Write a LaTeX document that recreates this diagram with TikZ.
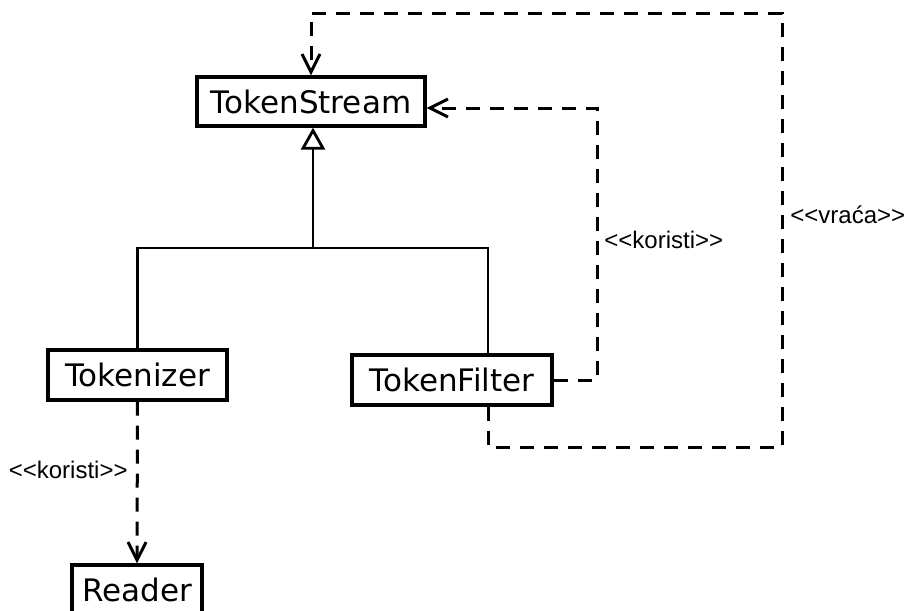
\documentclass[tikz,border=0pt]{standalone}
\usepackage{fontspec}
\setmainfont{DejaVu Sans}
\newfontfamily\labelfont{Liberation Sans}
\usetikzlibrary{arrows.meta}

\begin{document}
\begin{tikzpicture}[x=0.5pt,y=-0.5pt,
    klasa/.style={draw,line width=1.6pt,inner sep=0pt,font=\fontsize{15.5}{18}\selectfont},
    dep/.style={line width=1.5pt,dash pattern=on 7pt off 5pt,-{Straight Barb[length=9pt,width=9pt]}},
    stereo/.style={font=\labelfont\fontsize{12}{14}\selectfont,inner sep=1pt}]
  \useasboundingbox (0,0) rectangle (906,611);

  \node[klasa,minimum width=114pt,minimum height=24.5pt] (ts) at (311,101.5) {TokenStream};
  \node[klasa,minimum width=89.5pt,minimum height=25pt] (tz) at (137.5,375) {Tokenizer};
  \node[klasa,minimum width=100pt,minimum height=25pt] (tf) at (452,380) {TokenFilter};
  \node[klasa,minimum width=65pt,minimum height=25pt] (rd) at (137,590) {Reader};

  % generalizacija
  \coordinate (join) at (313,248);
  \coordinate (tfjoin) at (488,248);
  \draw[line width=1.4pt] (tz.north) |- (tfjoin) -- (tfjoin |- tf.north);
  \draw[line width=1.4pt,-{Triangle[open,length=11pt,width=12pt]}] (join) -- (join |- ts.south);

  % zavisnosti
  \draw[dep] (tz.south) -- (rd.north);
  \node[stereo,anchor=east] (kor1) at (130,470) {<<koristi>>};

  \coordinate (kor) at (597,108);
  \draw[dep] (tf.east) -| (kor) -- (kor -| ts.east);
  \node[stereo,anchor=west] (kor2) at (602,240) {<<koristi>>};

  \coordinate (vrb) at (782,447);
  \coordinate (vrt) at (782,13);
  \draw[dep] (tfjoin |- tf.south) |- (vrb) -- (vrt) -| (ts.north);
  \node[stereo,anchor=west] (vr) at (788,215) {<<vraća>>};
\end{tikzpicture}
\end{document}
